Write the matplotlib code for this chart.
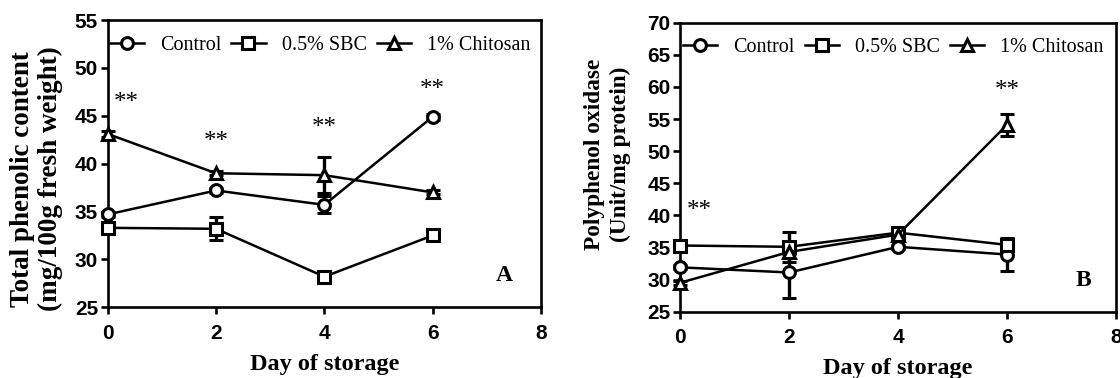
import matplotlib
matplotlib.use("Agg")
import matplotlib.pyplot as plt
import numpy as np

days = [0, 2, 4, 6]
series_names = ["Control", "0.5% SBC", "1% Chitosan"]

# Panel A: total phenolic content
a_control = [34.7, 37.2, 35.7, 44.9]
a_control_err = [0.3, 0.3, 0.9, 0.3]
a_sbc = [33.3, 33.2, 28.2, 32.5]
a_sbc_err = [0.3, 1.2, 0.3, 0.3]
a_chitosan = [43.1, 39.0, 38.8, 37.0]
a_chitosan_err = [0.3, 0.2, 1.9, 0.2]
a_stars_x = [0.35, 2.0, 4.0, 6.0]
a_stars_y = [46.3, 42.3, 43.7, 47.7]

# Panel B: polyphenol oxidase
b_control = [31.9, 31.1, 35.1, 33.9]
b_control_err = [0.3, 3.9, 0.3, 2.6]
b_sbc = [35.3, 35.1, 37.3, 35.4]
b_sbc_err = [0.3, 2.3, 0.8, 0.9]
b_chitosan = [29.5, 34.3, 37.0, 54.1]
b_chitosan_err = [0.3, 0.3, 0.3, 1.7]
b_stars_x = [0.35, 6.0]
b_stars_y = [40.6, 59.3]

serif = ["Liberation Serif", "DejaVu Serif"]
sans = ["Liberation Sans", "DejaVu Sans"]

fig = plt.figure(figsize=(11.2, 3.78), dpi=100)
axA = fig.add_axes([0.0962, 0.187, 0.483 - 0.0962, 0.947 - 0.187])
axB = fig.add_axes([0.6073, 0.1755, 0.9964 - 0.6073, 0.940 - 0.1755])

markers = ["o", "s", "^"]


def draw(ax, vals, errs, ylim, yticks, ylabel, ylab_size, ylab_ls, ylab_xy,
         stars_x, stars_y, letter, letter_xy, leg_xy):
    handles = []
    for v, e, m, name in zip(vals, errs, markers, series_names):
        ms = 8.5 if m != "^" else 9
        h = ax.errorbar(days, v, yerr=e, color="black", lw=1.8, marker=m,
                        ms=ms, mfc="white", mec="black", mew=2.2,
                        ecolor="black", elinewidth=2.4, capsize=5, capthick=2.8,
                        clip_on=False, zorder=3)
        handles.append(h[0])
    ax.set_xlim(0, 8)
    ax.set_ylim(*ylim)
    ax.set_xticks([0, 2, 4, 6, 8])
    ax.set_yticks(yticks)
    for s in ax.spines.values():
        s.set_linewidth(1.9)
    ax.tick_params(axis="both", direction="out", length=5, width=1.9)
    ax.tick_params(axis="x", pad=7)
    ax.tick_params(axis="y", pad=2)
    for lab in ax.get_xticklabels() + ax.get_yticklabels():
        lab.set_fontfamily(sans)
        lab.set_fontweight("bold")
        lab.set_fontsize(15)
    ax.set_xlabel("Day of storage", family=serif, fontweight="bold", fontsize=17.5, labelpad=8)
    ax.set_ylabel(ylabel, family=serif, fontweight="bold", fontsize=ylab_size,
                  linespacing=ylab_ls, va="center", ha="center")
    ax.yaxis.set_label_coords(*ylab_xy)
    for x, y in zip(stars_x, stars_y):
        ax.text(x, y, "**", family=serif, fontsize=18, ha="center", va="center")
    ax.text(letter_xy[0], letter_xy[1], letter, family=serif, fontweight="bold",
            fontsize=17, ha="center", va="center")
    ax.legend(handles, series_names, loc="center", bbox_to_anchor=leg_xy, ncol=3,
              frameon=False, prop={"family": serif, "size": 14.5},
              handlelength=1.7, handletextpad=0.8, columnspacing=0.5,
              borderaxespad=0)
    return ax


draw(axA, [a_control, a_sbc, a_chitosan], [a_control_err, a_sbc_err, a_chitosan_err],
     (25, 55), [25, 30, 35, 40, 45, 50, 55],
     "Total phenolic content\n(mg/100g fresh weight)", 19.5, 1.15, (-0.165, 0.447),
     a_stars_x, a_stars_y, "A", (7.32, 28.3), (0.49, 0.913))

draw(axB, [b_control, b_sbc, b_chitosan], [b_control_err, b_sbc_err, b_chitosan_err],
     (25, 70), [25, 30, 35, 40, 45, 50, 55, 60, 65, 70],
     "Polyphenol oxidase\n(Unit/mg protein)", 16.8, 1.3, (-0.167, 0.546),
     b_stars_x, b_stars_y, "B", (7.4, 29.9), (0.489, 0.915))

fig.savefig("out.png", dpi=100)
